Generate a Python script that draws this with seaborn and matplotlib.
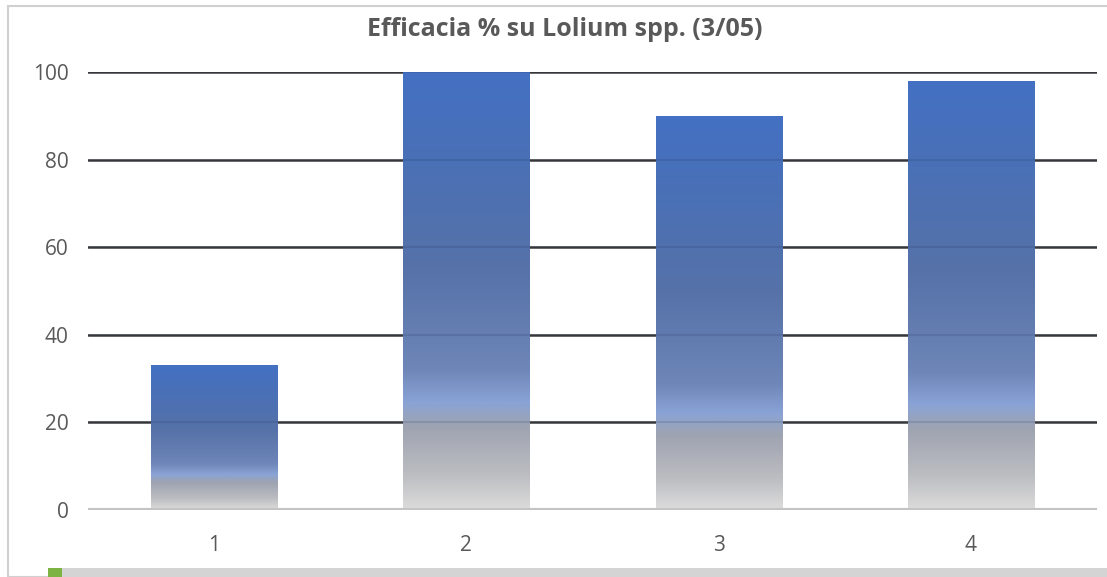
import numpy as np
import pandas as pd
import matplotlib
matplotlib.use("Agg")
import matplotlib.pyplot as plt
from matplotlib.colors import LinearSegmentedColormap
from matplotlib.patches import Rectangle
import seaborn as sns

categories = ["1", "2", "3", "4"]
values = [33, 100, 90, 98]
yticks = [0, 20, 40, 60, 80, 100]
title = "Efficacia % su Lolium spp. (3/05)"

sns.set_style("white")
plt.rcParams['font.family'] = ['Open Sans', 'DejaVu Sans']

fig = plt.figure(figsize=(11.07, 5.77), dpi=100)
ax = fig.add_axes([88/1107, 1-510/577, (1097-88)/1107, (510-72)/577])

df = pd.DataFrame({"cat": categories, "val": values})
sns.barplot(data=df, x="cat", y="val", ax=ax, width=0.5, color="#4472C4", zorder=2)

ax.set_ylim(0, 100)
ax.set_xlim(-0.5, 3.5)
ax.set_yticks(yticks)
ax.set_xlabel("")
ax.set_ylabel("")
for s in ax.spines.values():
    s.set_visible(False)
for y in yticks[1:]:
    ax.axhline(y, color="#3a3a3a", lw=1.8, zorder=1)
    ax.axhline(y, color="#1a2a50", lw=1.5, alpha=0.15, zorder=4)
ax.axhline(0, color="#c4c4c4", lw=3, zorder=5)

ax.tick_params(axis="y", length=0, pad=14, labelsize=15, labelcolor="#595959")
ax.tick_params(axis="x", length=0, pad=18, labelsize=15, labelcolor="#595959")

# gradient (bottom -> top)
stops = [
    (0.0, (220/255, 220/255, 220/255)),
    (0.08, (188/255, 189/255, 193/255)),
    (0.19, (158/255, 163/255, 177/255)),
    (0.245, (138/255, 163/255, 214/255)),
    (0.32, (110/255, 134/255, 184/255)),
    (0.55, (86/255, 114/255, 168/255)),
    (0.80, (74/255, 112/255, 182/255)),
    (1.0, (68/255, 113/255, 196/255)),
]
cmap = LinearSegmentedColormap.from_list("barg", stops)
grad = np.linspace(0, 1, 256).reshape(-1, 1)
for p in ax.patches:
    x0, w, h = p.get_x(), p.get_width(), p.get_height()
    p.set_facecolor("none")
    p.set_edgecolor("none")
    im = ax.imshow(grad, cmap=cmap, origin="lower", aspect="auto",
                   extent=[x0, x0 + w, 0, h], zorder=2)
    im.set_clip_path(p)
ax.set_xlim(-0.5, 3.5)
ax.set_ylim(0, 100)

fig.text(565/1107, 1-30/577, title, ha="center", va="center",
         fontsize=18, fontweight="bold", color="#595959")

# chart frame and bottom strip
fig.patches.append(Rectangle((8/1107, 0), 1.0, 1-6/577, transform=fig.transFigure,
                             fill=False, edgecolor="#d0d0d0", lw=1.5, zorder=0))
fig.patches.append(Rectangle((48/1107, 0), 1.0, 9/577, transform=fig.transFigure,
                             facecolor="#d4d4d4", edgecolor="none", zorder=5))
fig.patches.append(Rectangle((48/1107, 0), 14/1107, 9/577, transform=fig.transFigure,
                             facecolor="#7cb342", edgecolor="none", zorder=6))

fig.savefig("out.png", dpi=100)
